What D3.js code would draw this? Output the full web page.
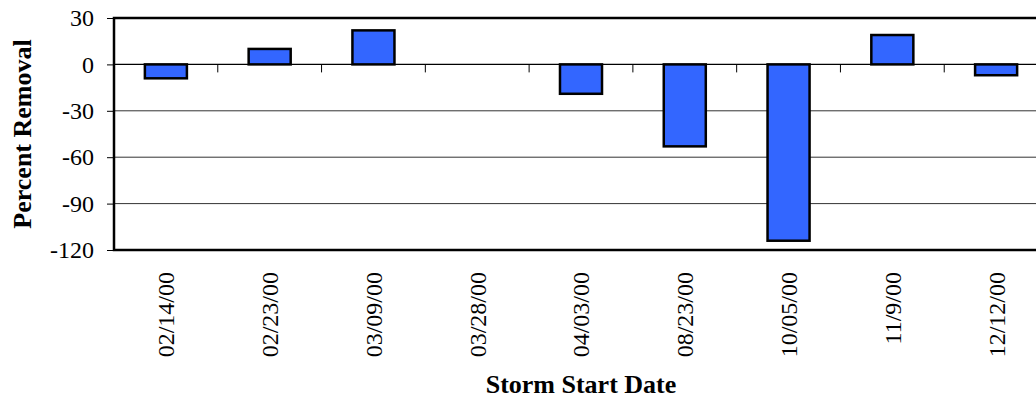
<!DOCTYPE html>
<html>
<head>
<meta charset="utf-8">
<script src="https://cdn.jsdelivr.net/npm/d3@7"></script>
<style>
  body { margin: 0; background: #fff; }
  svg { display: block; }
  text { font-family: "Liberation Serif", "Times New Roman", serif; fill: #000; }
</style>
</head>
<body>
<svg id="chart"></svg>
<script>
const stormDates = ["02/14/00", "02/23/00", "03/09/00", "03/28/00", "04/03/00", "08/23/00", "10/05/00", "11/9/00", "12/12/00"];
const percentRemoval = [-9, 10, 22, null, -19, -53, -114, 19, -7];
const yTicks = [30, 0, -30, -60, -90, -120];

const svgWidth = 1036, svgHeight = 398;

// plot area runs a bit past the right edge of the picture, like the original
var margin = {top: 18, left: 114},
    width = 934,
    height = 232;

var svg = d3.select("#chart")
  .attr("width", svgWidth)
  .attr("height", svgHeight);

var g = svg.append("g")
  .attr("transform", "translate(" + margin.left + "," + margin.top + ")");

var x = d3.scaleBand()
  .domain(stormDates)
  .range([0, width])
  .padding(0);

var y = d3.scaleLinear()
  .domain([-120, 30])
  .range([height, 0]);

// gridlines
g.append("g")
  .selectAll("line")
  .data(yTicks.filter(function(d) { return d < 30 && d > -120 && d != 0; }))
  .enter()
  .append("line")
    .attr("x1", 0)
    .attr("x2", width)
    .attr("y1", function(d) { return y(d); })
    .attr("y2", function(d) { return y(d); })
    .attr("stroke", "#333")
    .attr("stroke-width", 1);

// y axis (plain hyphen for negatives, as in the original)
var yAxis = g.append("g")
  .call(d3.axisLeft(y).tickValues(yTicks).tickSize(7).tickPadding(13)
    .tickFormat(function(d) { return String(d); }));
yAxis.select(".domain").remove();
yAxis.selectAll(".tick line").attr("stroke", "#000").attr("stroke-width", 1);
yAxis.selectAll("text")
  .style("font-family", "Liberation Serif")
  .style("font-size", "24px")
  .attr("fill", "#000");

// zero line with category tick marks
g.append("line")
  .attr("x1", 0)
  .attr("x2", width)
  .attr("y1", y(0))
  .attr("y2", y(0))
  .attr("stroke", "#000")
  .attr("stroke-width", 1.2);

g.append("g")
  .selectAll("line")
  .data(stormDates.slice(1))
  .enter()
  .append("line")
    .attr("x1", function(d) { return x(d); })
    .attr("x2", function(d) { return x(d); })
    .attr("y1", y(0))
    .attr("y2", y(0) + 8)
    .attr("stroke", "#000")
    .attr("stroke-width", 1);

// bars
var barW = x.bandwidth() * 0.405;
g.append("g")
  .selectAll("rect")
  .data(stormDates.map(function(d, i) { return {date: d, value: percentRemoval[i]}; })
    .filter(function(d) { return d.value != null; }))
  .enter()
  .append("rect")
    .attr("x", function(d) { return x(d.date) + (x.bandwidth() - barW) / 2; })
    .attr("y", function(d) { return y(Math.max(0, d.value)); })
    .attr("width", barW)
    .attr("height", function(d) { return Math.abs(y(d.value) - y(0)); })
    .attr("fill", "#3366ff")
    .attr("stroke", "#000")
    .attr("stroke-width", 2.5);

// frame
g.append("rect")
  .attr("x", 0)
  .attr("y", 0)
  .attr("width", width)
  .attr("height", height)
  .attr("fill", "none")
  .attr("stroke", "#000")
  .attr("stroke-width", 2.5);

// category labels
g.append("g")
  .selectAll("text")
  .data(stormDates)
  .enter()
  .append("text")
    .attr("transform", function(d) {
      return "translate(" + (x(d) + x.bandwidth() / 2) + "," + (height + 22) + ")rotate(-90)";
    })
    .attr("dy", "0.35em")
    .style("text-anchor", "end")
    .style("font-size", "24px")
    .text(function(d) { return d; });

// axis titles
svg.append("text")
  .attr("transform", "translate(31," + (margin.top + height / 2) + ")rotate(-90)")
  .style("text-anchor", "middle")
  .style("font-size", "26px")
  .style("font-weight", "bold")
  .text("Percent Removal");

svg.append("text")
  .attr("x", margin.left + width / 2)
  .attr("y", 393)
  .style("text-anchor", "middle")
  .style("font-size", "26px")
  .style("font-weight", "bold")
  .text("Storm Start Date");
</script>
</body>
</html>
